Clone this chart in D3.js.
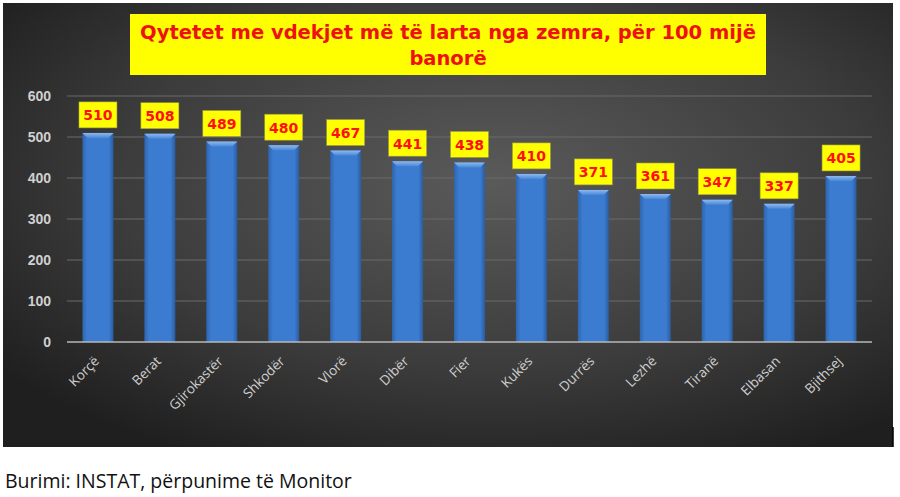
<!DOCTYPE html>
<html><head><meta charset="utf-8">
<script src="https://cdn.jsdelivr.net/npm/d3@7"></script>
<style>body{margin:0;background:#fff;}svg{display:block;}</style>
</head><body>
<script>
const categories = ["Korçë","Berat","Gjirokastër","Shkodër","Vlorë","Dibër","Fier","Kukës","Durrës","Lezhë","Tiranë","Elbasan","Bjithsej"];
const values = [510,508,489,480,467,441,438,410,371,361,347,337,405];
const yTicks = [0,100,200,300,400,500,600];
const titleLines = ["Qytetet me vdekjet më të larta nga zemra, për 100 mijë","banorë"];
const sourceText = "Burimi: INSTAT, përpunime të Monitor";

const W=900,H=497;
const svg=d3.select("body").append("svg").attr("width",W).attr("height",H);
const defs=svg.append("defs");
const bg=defs.append("radialGradient").attr("id","bg").attr("cx","55%").attr("cy","40%").attr("r","70%");
bg.append("stop").attr("offset","0%").attr("stop-color","#5a5a5a");
bg.append("stop").attr("offset","60%").attr("stop-color","#3c3c3c");
bg.append("stop").attr("offset","100%").attr("stop-color","#1f1f1f");
const bar=defs.append("linearGradient").attr("id","bar").attr("x1","0").attr("x2","1");
bar.append("stop").attr("offset","0%").attr("stop-color","#2f65ad");
bar.append("stop").attr("offset","15%").attr("stop-color","#3b7bd0");
bar.append("stop").attr("offset","85%").attr("stop-color","#3b7bd0");
bar.append("stop").attr("offset","100%").attr("stop-color","#2a5c9f");
const cap=defs.append("linearGradient").attr("id","cap").attr("x1","0").attr("x2","0").attr("y1","0").attr("y2","1");
cap.append("stop").attr("offset","0%").attr("stop-color","#8fb9ee");
cap.append("stop").attr("offset","100%").attr("stop-color","#4a88d8");

svg.append("rect").attr("x",3).attr("y",3).attr("width",890).attr("height",444).attr("fill","url(#bg)");
svg.append("line").attr("x1",893).attr("x2",893).attr("y1",427).attr("y2",447).attr("stroke","#000").attr("stroke-width",1.5);

const x=d3.scaleBand().domain(categories).range([67,872]).paddingInner(0.5).paddingOuter(0.25);
const y=d3.scaleLinear().domain([0,600]).range([342,96]);

// gridlines
svg.append("g").selectAll("line").data(yTicks.filter(d=>d>0)).join("line")
  .attr("x1",67).attr("x2",872).attr("y1",d=>y(d)).attr("y2",d=>y(d))
  .attr("stroke","#6a6a6a").attr("stroke-width",1);

// y axis
const yAxis=d3.axisLeft(y).tickValues(yTicks).tickSize(0).tickPadding(0);
const gy=svg.append("g").attr("transform","translate(51,0)").call(yAxis);
gy.select(".domain").remove();
gy.selectAll("text").attr("fill","#d0d0d0").attr("font-family","Liberation Sans, Arial, sans-serif").attr("font-weight","bold").attr("font-size","14px");

// bars
const bw=x.bandwidth();
const bars=svg.append("g").selectAll("g").data(categories).join("g");
bars.append("rect").attr("x",d=>x(d)).attr("y",(d,i)=>y(values[i])).attr("width",bw)
  .attr("height",(d,i)=>y(0)-y(values[i])).attr("fill","url(#bar)");
bars.append("path").attr("d",(d,i)=>{const x0=x(d),y0=y(values[i]);return `M${x0},${y0}H${x0+bw}L${x0+bw-5},${y0+5}H${x0+5}Z`;})
  .attr("fill","url(#cap)");

// baseline
svg.append("line").attr("x1",67).attr("x2",872).attr("y1",y(0)).attr("y2",y(0)).attr("stroke","#b8b8b8").attr("stroke-width",1.5);

// value labels
const lab=svg.append("g").selectAll("g").data(categories).join("g")
  .attr("transform",(d,i)=>`translate(${x(d)+bw/2},${y(values[i])-5})`);
lab.append("rect").attr("x",-19).attr("y",-26).attr("width",38).attr("height",26).attr("fill","#ffff00").attr("stroke","#9a9a40").attr("stroke-width",0.6);
lab.append("text").attr("y",-7.5).attr("text-anchor","middle").attr("fill","#ff1010")
  .attr("font-family","DejaVu Sans, Verdana, sans-serif").attr("font-weight","bold").attr("font-size","14px")
  .text((d,i)=>values[i]);

// x labels
const gx=svg.append("g").attr("transform",`translate(0,${y(0)})`).call(d3.axisBottom(x).tickSize(0).tickPadding(0));
gx.select(".domain").remove();
gx.selectAll("text").attr("fill","#cfcfcf").attr("font-family","Open Sans, sans-serif").attr("font-size","13.5px")
  .attr("text-anchor","end").attr("dy",null).attr("y",0).attr("transform","translate(2,20) rotate(-45)");

// title
svg.append("rect").attr("x",130).attr("y",14).attr("width",636).attr("height",61).attr("fill","#ffff00");
svg.append("g").selectAll("text").data(titleLines).join("text")
  .attr("x",448).attr("y",(d,i)=>39+i*26).attr("text-anchor","middle").attr("fill","#ee1111")
  .attr("font-family","DejaVu Sans, Verdana, sans-serif").attr("font-weight","bold").attr("font-size","19.5px")
  .text(d=>d);

// source
svg.append("text").attr("x",5).attr("y",488).attr("fill","#111").attr("font-family","Open Sans, sans-serif").attr("font-size","19.5px").text(sourceText);
</script>
</body></html>
